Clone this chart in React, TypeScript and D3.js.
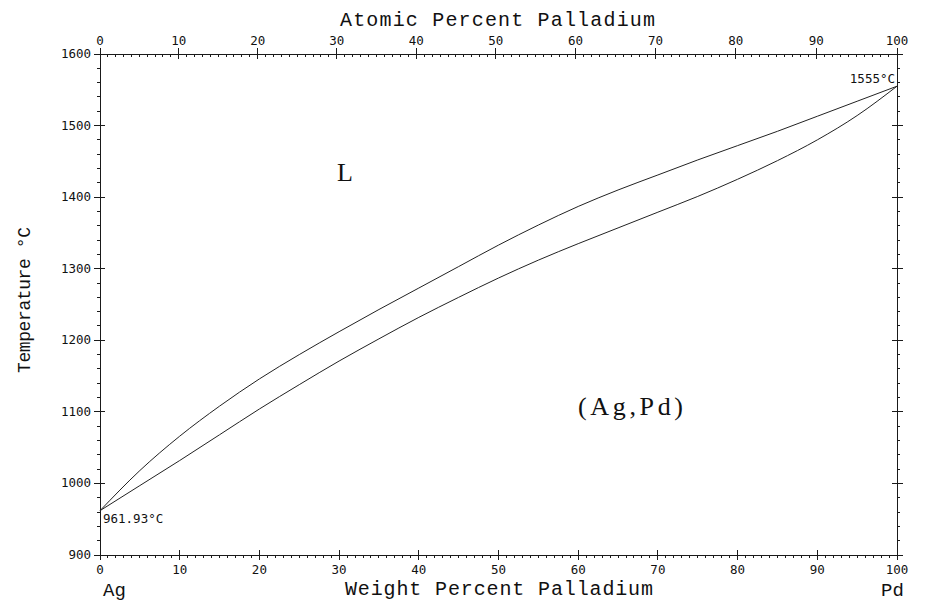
import React from "react";
import * as d3 from "d3";

const liquidusWt = [0, 5, 10, 15, 20, 25, 30, 35, 40, 45, 50, 55, 60, 65, 70, 75, 80, 85, 90, 95, 100];
const liquidusT = [961.93, 1018, 1066, 1108, 1146, 1180, 1212, 1243, 1273, 1303, 1333, 1361, 1387, 1410, 1431, 1452, 1472, 1492, 1513, 1534, 1555];
const solidusWt = [0, 5, 10, 15, 20, 25, 30, 35, 40, 45, 50, 55, 60, 65, 70, 75, 80, 85, 90, 95, 100];
const solidusT = [961.93, 997, 1032, 1068, 1104, 1138, 1171, 1202, 1232, 1260, 1287, 1312, 1335, 1357, 1379, 1401, 1425, 1451, 1480, 1514, 1555];

const weightTicks = [0, 10, 20, 30, 40, 50, 60, 70, 80, 90, 100];
const atomicTicks = [0, 10, 20, 30, 40, 50, 60, 70, 80, 90, 100];
const tempTicks = [900, 1000, 1100, 1200, 1300, 1400, 1500, 1600];

const M_AG = 107.8682;
const M_PD = 106.42;
const atToWt = (a: number) => (a === 0 ? 0 : (100 * a * M_PD) / (a * M_PD + (100 - a) * M_AG));

const W = 932;
const H = 603;

export default function App() {
  const x = d3.scaleLinear().domain([0, 100]).range([100, 897]);
  const y = d3.scaleLinear().domain([900, 1600]).range([555, 54]);
  const x0 = x(0), x1 = x(100), yTop = y(1600), yBot = y(900);

  const line = d3
    .line<[number, number]>()
    .x((d) => x(d[0]))
    .y((d) => y(d[1]))
    .curve(d3.curveMonotoneX);
  const liq = liquidusWt.map((w, i) => [w, liquidusT[i]] as [number, number]);
  const sol = solidusWt.map((w, i) => [w, solidusT[i]] as [number, number]);

  const minorX = d3.range(0, 101, 1);
  const minorY = d3.range(900, 1601, 20);
  const stroke = "#1a1a1a";
  const tickFont = "'DejaVu Sans Mono', monospace";
  const titleFont = "'Liberation Mono', 'DejaVu Sans Mono', monospace";
  const serif = "'Liberation Serif', 'DejaVu Serif', serif";

  return (
    <svg width={W} height={H} style={{ position: "absolute", left: 0, top: 0, background: "#fff" }}>
      <rect x={0} y={0} width={W} height={H} fill="#fff" />
      <g stroke={stroke} strokeWidth={1} fill="none" shapeRendering="crispEdges">
        <line x1={x0} x2={x1 + 5} y1={yTop} y2={yTop} />
        <line x1={x0 - 5} x2={x1} y1={yBot} y2={yBot} />
        <line x1={x0} x2={x0} y1={yTop} y2={yBot + 5} />
        <line x1={x1} x2={x1} y1={yTop - 5} y2={yBot} />
        {minorX.map((v) => (
          <line key={"bm" + v} x1={x(v)} x2={x(v)} y1={yBot} y2={yBot + (v % 10 === 0 ? 5 : 3)} />
        ))}
        {weightTicks.map((v) => (
          <line key={"bM" + v} x1={x(v)} x2={x(v)} y1={yBot - 5} y2={yBot + 5} />
        ))}
        {minorX.map((a) => (
          <line key={"tm" + a} x1={x(atToWt(a))} x2={x(atToWt(a))} y1={yTop} y2={yTop + 3} />
        ))}
        {atomicTicks.map((a) => (
          <line key={"tM" + a} x1={x(atToWt(a))} x2={x(atToWt(a))} y1={yTop - 6} y2={yTop + 5} />
        ))}
        {minorY.map((t) => (
          <line key={"lm" + t} x1={x0 - 3} x2={x0} y1={y(t)} y2={y(t)} />
        ))}
        {tempTicks.map((t) => (
          <line key={"lM" + t} x1={x0 - 6} x2={x0 + 5} y1={y(t)} y2={y(t)} />
        ))}
        {minorY.map((t) => (
          <line key={"rm" + t} x1={x1} x2={x1 + 3} y1={y(t)} y2={y(t)} />
        ))}
        {tempTicks.map((t) => (
          <line key={"rM" + t} x1={x1 - 5} x2={x1 + 6} y1={y(t)} y2={y(t)} />
        ))}
      </g>

      <path d={line(liq) || ""} fill="none" stroke="#222" strokeWidth={1} />
      <path d={line(sol) || ""} fill="none" stroke="#222" strokeWidth={1} />

      <g fontFamily={tickFont} fontSize={12.5} fill="#111">
        {weightTicks.map((v) => (
          <text key={"bl" + v} x={x(v)} y={yBot + 19} textAnchor="middle">
            {v}
          </text>
        ))}
        {atomicTicks.map((a) => (
          <text key={"tl" + a} x={x(atToWt(a))} y={yTop - 9} textAnchor="middle">
            {a}
          </text>
        ))}
        {tempTicks.map((t) => (
          <text key={"ll" + t} x={x0 - 9} y={y(t) + 4} textAnchor="end">
            {t}
          </text>
        ))}
      </g>

      <text x={340} y={26} fontFamily={titleFont} fontSize={20} textLength={315} lengthAdjust="spacing" fill="#111">
        Atomic Percent Palladium
      </text>
      <text x={345} y={595} fontFamily={titleFont} fontSize={20} textLength={308} lengthAdjust="spacing" fill="#111">
        Weight Percent Palladium
      </text>
      <text
        transform="translate(30,373) rotate(-90)"
        x={0}
        y={0}
        fontFamily={titleFont}
        fontSize={18}
        textLength={146}
        lengthAdjust="spacing"
        fill="#111"
      >
        Temperature °C
      </text>
      <text x={103} y={596} fontFamily={titleFont} fontSize={19} fill="#111">
        Ag
      </text>
      <text x={881} y={596} fontFamily={titleFont} fontSize={19} fill="#111">
        Pd
      </text>

      <text x={337} y={181} fontFamily={serif} fontSize={26} fill="#111">
        L
      </text>
      <text x={578} y={415} fontFamily={serif} fontSize={26} textLength={105} lengthAdjust="spacing" fill="#111">
        (Ag,Pd)
      </text>

      <text x={103} y={523} fontFamily={tickFont} fontSize={12.5} fill="#111">
        961.93°C
      </text>
      <text x={895} y={83} textAnchor="end" fontFamily={tickFont} fontSize={12.5} fill="#111">
        1555°C
      </text>
    </svg>
  );
}
